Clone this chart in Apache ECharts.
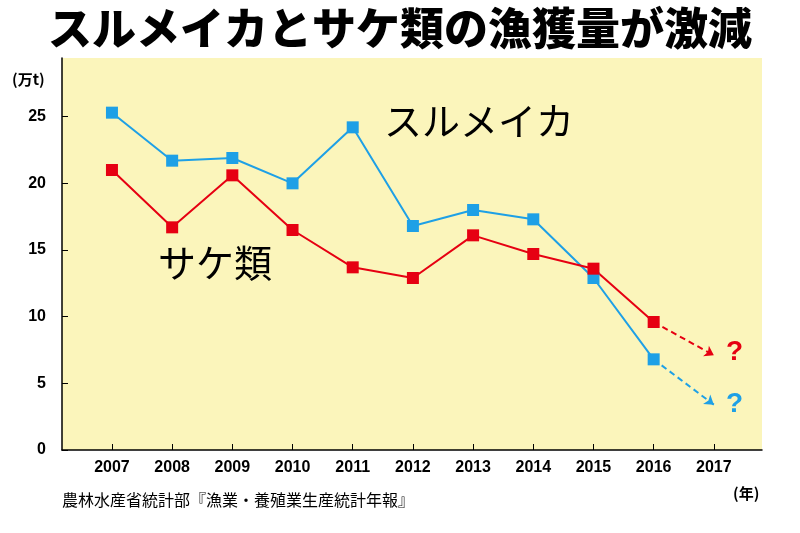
<!DOCTYPE html>
<html><head><meta charset="utf-8">
<script src="https://cdn.jsdelivr.net/npm/echarts@6/dist/echarts.min.js"></script>
<style>html,body{margin:0;background:#fff}#c{width:800px;height:533px}</style>
</head><body><div id="c"></div>
<script>
const years=[2007,2008,2009,2010,2011,2012,2013,2014,2015,2016];
const squid=[25.3,21.7,21.9,20.0,24.2,16.8,18.0,17.3,12.9,6.8];
const salmon=[21.0,16.7,20.6,16.5,13.7,12.9,16.1,14.7,13.6,9.6];
const squidForecast=[[2016,6.8],[2017,3.4]];
const salmonForecast=[[2016,9.6],[2017,7.1]];
const xTicks=[2007,2008,2009,2010,2011,2012,2013,2014,2015,2016,2017];
const F='"Noto Sans CJK JP",sans-serif';
const chart=echarts.init(document.getElementById('c'));
chart.setOption({
 animation:false,
 graphic:[
  {type:'text',left:'center',top:6,style:{text:'スルメイカとサケ類の漁獲量が激減',font:'900 44px '+F,fill:'#000'}},
  {type:'text',left:12,top:72,style:{text:'(万t)',font:'bold 15px '+F,fill:'#000'}},
  {type:'text',left:733,top:486,style:{text:'(年)',font:'bold 15px '+F,fill:'#000'}},
  {type:'text',left:62,top:492,style:{text:'農林水産省統計部『漁業・養殖業生産統計年報』',font:'16px '+F,fill:'#000'}},
  {type:'text',left:384,top:102,style:{text:'スルメイカ',font:'38px '+F,fill:'#000'}},
  {type:'text',left:158,top:244,style:{text:'サケ類',font:'38px '+F,fill:'#000'}},
  {type:'text',left:726,top:338,style:{text:'?',font:'bold 28px Arial,"Liberation Sans",sans-serif',fill:'#e60012'}},
  {type:'text',left:726,top:390,style:{text:'?',font:'bold 28px Arial,"Liberation Sans",sans-serif',fill:'#1ea0e6'}}
 ],
 grid:{left:62,right:38,top:58,bottom:83,show:true,backgroundColor:'#fbf5bb',borderWidth:0},
 xAxis:{type:'value',min:2006.17,max:2017.8,interval:1,
  axisLine:{show:true,lineStyle:{color:'#000',width:1.5}},
  axisTick:{show:true,inside:true,length:6,lineStyle:{color:'#000'},customValues:xTicks},
  axisLabel:{customValues:xTicks,formatter:v=>String(v),color:'#000',fontSize:16,fontWeight:'bold',fontFamily:'Arial',margin:10},
  splitLine:{show:false}},
 yAxis:{type:'value',min:0,max:29.4,
  axisLine:{show:true,lineStyle:{color:'#000',width:1.5}},
  axisTick:{show:true,inside:true,length:6,lineStyle:{color:'#000'},customValues:[0,5,10,15,20,25]},
  axisLabel:{customValues:[0,5,10,15,20,25],formatter:v=>String(v),color:'#000',fontSize:16,fontWeight:'bold',fontFamily:'Arial',margin:16},
  splitLine:{show:false}},
 series:[
  {type:'line',data:years.map((y,i)=>[y,squid[i]]),symbol:'rect',symbolSize:12,lineStyle:{color:'#1ea0e6',width:2},itemStyle:{color:'#1ea0e6'},z:3},
  {type:'line',data:years.map((y,i)=>[y,salmon[i]]),symbol:'rect',symbolSize:12,lineStyle:{color:'#e60012',width:2},itemStyle:{color:'#e60012'},z:3},
  {type:'lines',coordinateSystem:'cartesian2d',symbol:['none','arrow'],symbolSize:9,
   data:[{coords:squidForecast,lineStyle:{color:'#1ea0e6'}},{coords:salmonForecast,lineStyle:{color:'#e60012'}}],
   lineStyle:{width:2,type:[6,4],opacity:1},z:2}
 ]
});
</script></body></html>
